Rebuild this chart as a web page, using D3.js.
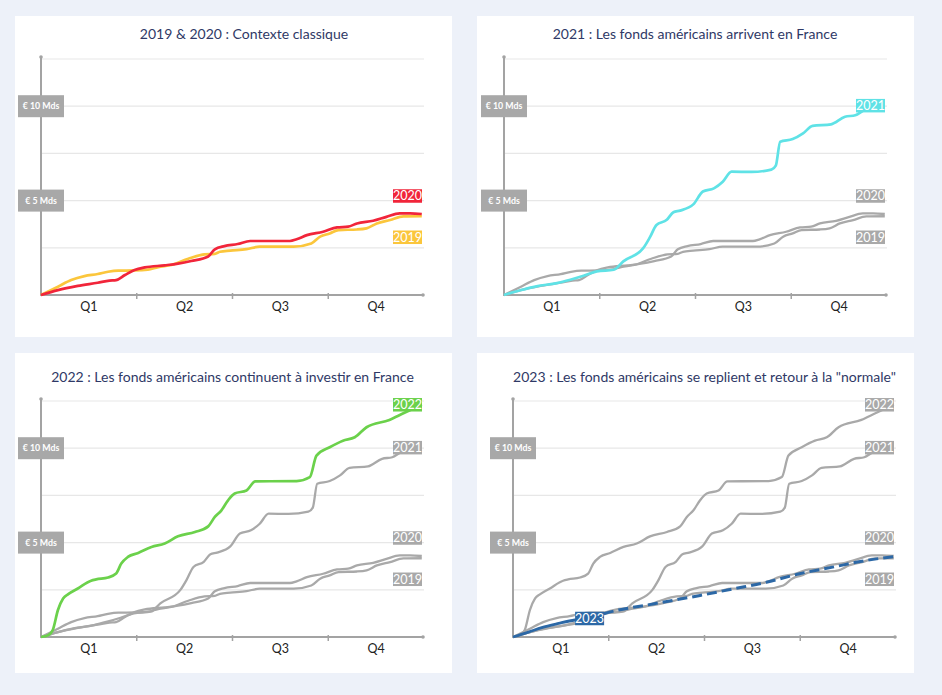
<!DOCTYPE html>
<html><head><meta charset="utf-8">
<script src="https://cdn.jsdelivr.net/npm/d3@7"></script>
<style>
html,body{margin:0;padding:0;background:#edf1f9;}
svg{display:block;font-family:Lato,"Open Sans",sans-serif;}
</style></head>
<body>
<svg id="c" width="942" height="695"></svg>
<script>
// ---- data (week of year, cumulative € Mds) ----
const quarters = ["Q1","Q2","Q3","Q4"];
const yTickLabels = ["€ 5 Mds","€ 10 Mds"];
const yTickValues = [5, 10];
const gridValues = [2.5, 5, 7.5, 10, 12.5];
const titles = [
  "2019 & 2020 : Contexte classique",
  "2021 : Les fonds américains arrivent en France",
  "2022 : Les fonds américains continuent à investir en France",
  "2023 : Les fonds américains se replient et retour à la \"normale\""
];
const s2019 = [[0,0],[2.3,0.44],[4.1,0.79],[5.9,1.0],[7.7,1.11],[9.1,1.23],[10.5,1.29],[12.7,1.3],[14.5,1.34],[15.9,1.48],[17.7,1.59],[20,1.92],[22.2,2.15],[23.6,2.18],[24.3,2.29],[25.7,2.35],[27.9,2.43],[29.7,2.56],[34.3,2.56],[36.7,2.73],[37.9,3.09],[39.2,3.26],[40.4,3.44],[42.9,3.47],[44.2,3.53],[45.6,3.79],[47.4,3.97],[49.2,4.16],[51.7,4.17]];
const s2020 = [[0,0],[2.3,0.26],[5,0.48],[7.7,0.65],[9.3,0.76],[10.2,0.79],[11.4,1.06],[12.7,1.32],[14.1,1.46],[16.8,1.57],[18.6,1.66],[20.4,1.8],[22.7,2.04],[23.6,2.42],[24.9,2.59],[26.7,2.7],[28.4,2.86],[33.8,2.86],[34.7,2.95],[36.1,3.17],[38.3,3.35],[40.2,3.58],[41.7,3.62],[42.9,3.79],[45.1,3.93],[46.9,4.14],[48.7,4.32],[50.1,4.32],[51.7,4.29]];
const s2021 = [[0,0],[2.2,0.25],[4.4,0.46],[7.2,0.63],[9,0.81],[10.8,1.02],[12.6,1.25],[14.9,1.34],[16.2,1.78],[18.9,2.48],[19.8,3.05],[20.7,3.71],[22.1,3.98],[23,4.38],[23.9,4.47],[25.7,4.8],[27,5.48],[28.5,5.65],[29.7,6.0],[30.9,6.53],[33.6,6.52],[36.3,6.64],[36.9,6.85],[37.5,8.12],[39.2,8.26],[40.6,8.56],[41.9,8.96],[44.4,9.04],[46.3,9.44],[47.7,9.52],[49.1,9.79],[51.7,9.79]];
const s2022 = [[0,0],[1,0.1],[1.6,0.37],[2.3,1.43],[3,2.04],[3.7,2.27],[5,2.57],[6.8,2.98],[7.5,3.05],[9.1,3.15],[10.2,3.36],[10.9,3.89],[11.8,4.24],[13.2,4.45],[15,4.77],[16.8,4.95],[18.6,5.33],[20.9,5.56],[22.7,5.86],[23.6,6.36],[24.5,6.71],[25.4,7.24],[26.3,7.6],[27.9,7.76],[29.1,8.24],[34.7,8.26],[36.5,8.47],[37.4,9.61],[39.2,10.05],[41,10.4],[42.6,10.58],[44.2,11.11],[47.3,11.5],[49.2,11.85],[51.7,12.3]];
const s2023 = [[0,0],[2.1,0.26],[3.9,0.5],[6.2,0.72],[8.4,0.9],[10.4,0.98]];
const s2023proj = [[10.4,0.98],[12.3,1.23],[19,1.75],[25.4,2.2],[29.9,2.55],[34.4,2.9],[38.9,3.35],[43.4,3.7],[47.9,4.05],[51.7,4.26]];

// ---- layout / style ----
const GREY = "#a9a9a9";
const series = {
  "2019": {data: s2019, color: "#fbc63c", dy: 21},
  "2020": {data: s2020, color: "#f1253a", dy: -18},
  "2021": {data: s2021, color: "#5fe2e6", dy: -4.5},
  "2022": {data: s2022, color: "#6bd14b", dy: 0},
};
const panels = [
  {box:[15,16,437,321], x0:41, y0:295, title:[244,39], grey:[], col:["2019","2020"]},
  {box:[477,16,437,321], x0:504, y0:295, title:[695,39], grey:["2019","2020"], col:["2021"]},
  {box:[15,353,437,320], x0:41, y0:637, title:[232.5,381.5], grey:["2019","2020","2021"], col:["2022"]},
  {box:[477,353,437,320], x0:513, y0:637, title:[704.5,381.5], grey:["2019","2020","2021","2022"], col:[], p2023:true},
];
const svg = d3.select("#c");

panels.forEach((p, i) => {
  const g = svg.append("g");
  g.append("rect").attr("x",p.box[0]).attr("y",p.box[1]).attr("width",p.box[2]).attr("height",p.box[3]).attr("fill","#fff");
  g.append("text").attr("x",p.title[0]).attr("y",p.title[1]).attr("text-anchor","middle")
    .attr("font-size",14).attr("fill","#2f3966").text(titles[i]);

  const x = d3.scaleLinear().domain([0,52]).range([p.x0, p.x0+383]);
  const y = d3.scaleLinear().domain([0,12.5]).range([p.y0, p.y0-236]);

  // grid
  g.selectAll(".grid").data(gridValues).join("line")
    .attr("x1",x(0)).attr("x2",x(52)).attr("y1",d=>y(d)).attr("y2",d=>y(d))
    .attr("stroke","#e7e7e7").attr("stroke-width",1.2);
  // axes
  g.append("line").attr("x1",x(0)).attr("x2",x(0)).attr("y1",p.y0-238).attr("y2",p.y0)
    .attr("stroke","#a3a3a3").attr("stroke-width",2).attr("stroke-linecap","round");
  g.append("line").attr("x1",x(0)).attr("x2",x(52)-1).attr("y1",p.y0).attr("y2",p.y0)
    .attr("stroke","#a3a3a3").attr("stroke-width",2).attr("stroke-linecap","round");
  g.append("circle").attr("cx",x(0)).attr("cy",p.y0-238).attr("r",1.8).attr("fill","#a3a3a3");
  g.append("circle").attr("cx",x(52)-1).attr("cy",p.y0).attr("r",1.8).attr("fill","#a3a3a3");
  g.selectAll(".tk").data([13,26,39]).join("line")
    .attr("x1",d=>x(d)).attr("x2",d=>x(d)).attr("y1",p.y0-2).attr("y2",p.y0+4)
    .attr("stroke","#a3a3a3").attr("stroke-width",1.5);
  g.selectAll(".q").data(quarters).join("text")
    .attr("x",(d,k)=>x(13*k+6.5)).attr("y",p.y0+16).attr("text-anchor","middle")
    .attr("font-size",12.5).attr("fill","#222").text(d=>d);

  const line = d3.line().x(d=>x(d[0])).y(d=>y(d[1])).curve(d3.curveMonotoneX);

  const drawLabel = (txt, cx, cy, fill, anchorRight) => {
    const w = 29, h = 13.5;
    const lx = anchorRight ? cx - w : cx - w/2;
    g.append("rect").attr("x",lx).attr("y",cy-h/2).attr("width",w).attr("height",h).attr("fill",fill);
    g.append("text").attr("x",lx+w/2).attr("y",cy+4.4).attr("text-anchor","middle")
      .attr("font-size",12.5).attr("fill","#fff").text(txt);
  };

  p.grey.forEach(k => {
    g.append("path").attr("d",line(series[k].data)).attr("fill","none")
      .attr("stroke",GREY).attr("stroke-width",2.3).attr("stroke-linejoin","round");
  });
  p.col.forEach(k => {
    g.append("path").attr("d",line(series[k].data)).attr("fill","none")
      .attr("stroke",series[k].color).attr("stroke-width",2.7).attr("stroke-linejoin","round");
  });
  if (p.p2023) {
    g.append("path").attr("d",line(s2023)).attr("fill","none")
      .attr("stroke","#2c68a6").attr("stroke-width",2.8);
    g.append("path").attr("d",line(s2023proj)).attr("fill","none")
      .attr("stroke","#2c68a6").attr("stroke-width",3).attr("stroke-dasharray","10,5");
  }
  // end labels
  [...p.grey, ...p.col].forEach(k => {
    const s = series[k];
    const last = s.data[s.data.length-1];
    const fill = p.grey.includes(k) ? GREY : s.color;
    drawLabel(k, x(52)-2, y(last[1]) + s.dy, fill, true);
  });
  if (p.p2023) {
    const last = s2023[s2023.length-1];
    drawLabel("2023", x(last[0]), y(last[1]), "#2c68a6", false);
  }
  // y labels
  yTickValues.forEach((v,k) => {
    g.append("rect").attr("x",x(0)-23).attr("y",y(v)-11).attr("width",46).attr("height",22).attr("fill","#a8a8a8");
    g.append("text").attr("x",x(0)).attr("y",y(v)+3.2).attr("text-anchor","middle")
      .attr("font-size",8.8).attr("font-weight","bold").attr("fill","#fff").text(yTickLabels[k]);
  });
});
</script>
</body></html>
